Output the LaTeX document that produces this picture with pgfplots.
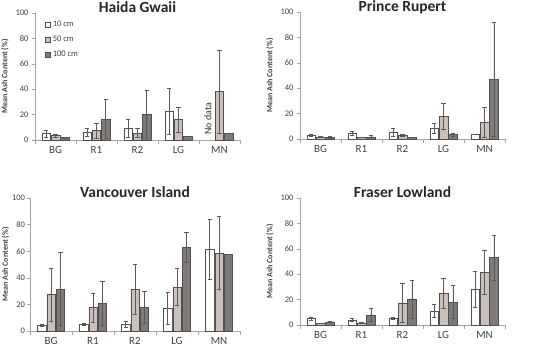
\documentclass[border=0pt]{standalone}
\usepackage{pgfplots}
\pgfplotsset{compat=1.18}
\usepackage{pgfplotstable}
\usepackage{fontspec}
\setmainfont{Carlito}

\definecolor{lightbar}{HTML}{C9C0BC}
\definecolor{darkbar}{HTML}{7F7978}
\definecolor{barline}{HTML}{505050}
\definecolor{axisgray}{HTML}{A6A6A6}
\definecolor{errgray}{HTML}{5A5A5A}
\definecolor{txt}{HTML}{404040}

% columns: category, 10 cm mean/error, 50 cm mean/error, 100 cm mean/error
\pgfplotstableread{
x a ea b eb c ec
0 5 2.5 3.5 1 2 0.5
1 6 3 7.5 6 16.5 15.5
2 9.5 7 5.5 3.5 20 19
3 22.5 18 16 10 3 0
4 nan nan 38 33 5.5 0
}\haida
\pgfplotstableread{
x a ea b eb c ec
0 3 0.5 1.5 0.3 1.5 0.7
1 4.5 1.5 1 0 1.5 1.5
2 5.5 3 3 0.5 1.5 0
3 8.5 4 18 10 3.5 1
4 4 0 13 12 47 45
}\rupert
\pgfplotstableread{
x a ea b eb c ec
0 4 0.7 27.5 20 31.5 27.5
1 5 0.7 17.5 11 20.5 16.5
2 5 2 31.5 19 17.5 12
3 17 12 33 14 63 11
4 61.5 22.5 58.5 27.5 57.5 0
}\vancouver
\pgfplotstableread{
x a ea b eb c ec
0 5 1 1.5 0 2.5 0.7
1 4 1 1.5 0.3 8 5
2 5.5 0.8 17.5 15 20.5 15
3 11 5 25 12 18 13
4 28 14 41.5 17 53 18
}\fraser

\pgfplotsset{
  panel/.style={
    scale only axis, width=205pt, height=127pt,
    anchor=south west,
    xmin=-0.5, xmax=4.5, ymin=0, ymax=100,
    ytick={0,20,...,100},
    xtick={0,...,4}, xticklabels={BG,R1,R2,LG,MN},
    minor xtick={-0.5,0.5,...,4.5},
    axis x line*=bottom, axis y line*=left,
    axis line style={draw=axisgray, line width=0.6pt, -},
    major x tick style={draw=none},
    minor x tick style={draw=axisgray, line width=0.6pt},
    major y tick style={draw=axisgray, line width=0.6pt},
    tick align=outside,
    minor tick length=4pt, major tick length=3pt,
    /pgf/number format/assume math mode=true,
    yticklabel style={font=\fontsize{8.5}{9}\selectfont, text=txt},
    xticklabel style={font=\fontsize{11}{12}\selectfont, text=txt},
    ylabel={Mean Ash Content (\%)},
    ylabel style={font=\bfseries\fontsize{8}{9}\selectfont, text=txt},
    title style={font=\bfseries\fontsize{15.5}{16}\selectfont, text=black!85,
                 at={(0.5,1)}, anchor=base, yshift=-5.5pt},
    ybar=0.8pt, bar width=8.5pt,
    clip=false,
    every axis plot/.append style={
      draw=barline, line width=0.5pt,
      error bars/y dir=both, error bars/y explicit,
      error bars/error bar style={draw=errgray, line width=0.6pt},
      error bars/error mark options={rotate=90, mark size=2.2pt, draw=errgray, line width=0.6pt},
    },
  },
  sq legend/.style={legend image code/.code={
    \draw[##1, draw=barline, line width=0.4pt] (0pt,-2.6pt) rectangle (5.2pt,2.6pt);}},
}

\begin{document}
\begin{tikzpicture}
\useasboundingbox (0pt,0pt) rectangle (534pt,346pt);

% Haida Gwaii
\begin{axis}[panel, at={(35pt,206pt)}, title={Haida Gwaii},
  legend style={at={(0,1)}, anchor=north west, xshift=9pt, yshift=-5pt,
    draw=none, fill=none, font=\fontsize{8.5}{9.5}\selectfont, text=txt,
    row sep=4pt, legend cell align=left, inner sep=1pt}]
\addplot[fill=white, sq legend] table[x=x, y=a, y error=ea]{\haida};
\addplot[fill=lightbar, sq legend] table[x=x, y=b, y error=eb]{\haida};
\addplot[fill=darkbar, sq legend] table[x=x, y=c, y error=ec]{\haida};
\legend{10 cm, 50 cm, 100 cm}
\node[rotate=90, anchor=west, font=\fontsize{10}{11}\selectfont, text=black!80]
  at (axis cs:3.72,1.5) {No data};
\end{axis}

% Prince Rupert
\begin{axis}[panel, at={(300pt,207pt)}, title={Prince Rupert}]
\addplot[fill=white] table[x=x, y=a, y error=ea]{\rupert};
\addplot[fill=lightbar] table[x=x, y=b, y error=eb]{\rupert};
\addplot[fill=darkbar] table[x=x, y=c, y error=ec]{\rupert};
\end{axis}

% Vancouver Island
\begin{axis}[panel, at={(30pt,15pt)}, width=210pt, height=133pt, title={Vancouver Island},
  yticklabel style={xshift=1.5pt}, ylabel style={yshift=-4pt}]
\addplot[fill=white] table[x=x, y=a, y error=ea]{\vancouver};
\addplot[fill=lightbar] table[x=x, y=b, y error=eb]{\vancouver};
\addplot[fill=darkbar] table[x=x, y=c, y error=ec]{\vancouver};
\end{axis}

% Fraser Lowland
\begin{axis}[panel, at={(300pt,21pt)}, title={Fraser Lowland}]
\addplot[fill=white] table[x=x, y=a, y error=ea]{\fraser};
\addplot[fill=lightbar] table[x=x, y=b, y error=eb]{\fraser};
\addplot[fill=darkbar] table[x=x, y=c, y error=ec]{\fraser};
\end{axis}
\end{tikzpicture}
\end{document}
